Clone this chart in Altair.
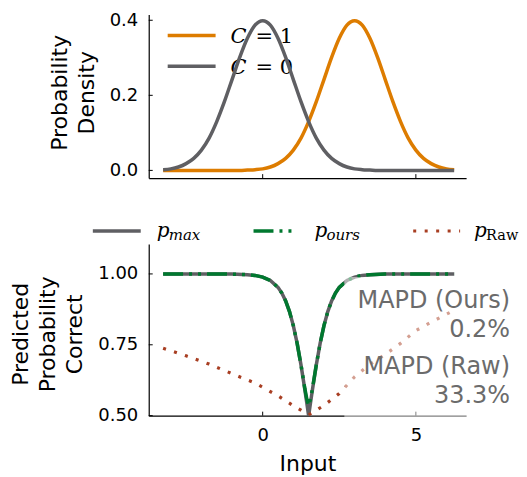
import altair as alt
import pandas as pd

# ---------------- data ----------------
x_grid = [-3.25, -3.0, -2.75, -2.5, -2.25, -2.0, -1.75, -1.5, -1.25, -1.0,
          -0.75, -0.5, -0.25, 0.0, 0.25, 0.5, 0.75, 1.0, 1.25, 1.5,
          1.75, 2.0, 2.25, 2.5, 2.75, 3.0, 3.25, 3.5, 3.75, 4.0,
          4.25, 4.5, 4.75, 5.0, 5.25, 5.5, 5.75, 6.0, 6.25]
density_c0 = [0.002, 0.004, 0.009, 0.018, 0.032, 0.054, 0.086, 0.130, 0.183, 0.242,
              0.301, 0.352, 0.387, 0.399, 0.387, 0.352, 0.301, 0.242, 0.183, 0.130,
              0.086, 0.054, 0.032, 0.018, 0.009, 0.004, 0.002, 0.001, 0.0, 0.0,
              0.0, 0.0, 0.0, 0.0, 0.0, 0.0, 0.0, 0.0, 0.0]
density_c1 = [0.0, 0.0, 0.0, 0.0, 0.0, 0.0, 0.0, 0.0, 0.0, 0.0,
              0.0, 0.001, 0.002, 0.004, 0.009, 0.018, 0.032, 0.054, 0.086, 0.130,
              0.183, 0.242, 0.301, 0.352, 0.387, 0.399, 0.387, 0.352, 0.301, 0.242,
              0.183, 0.130, 0.086, 0.054, 0.032, 0.018, 0.009, 0.004, 0.002]

x_pred = [-3.25, -2.5, -1.5, -1.0, -0.5, -0.25, 0.0, 0.25, 0.5, 0.625,
          0.75, 0.875, 1.0, 1.125, 1.25, 1.375, 1.4375, 1.5, 1.5625, 1.625,
          1.75, 1.875, 2.0, 2.125, 2.25, 2.375, 2.5, 2.75, 3.0, 3.25,
          3.5, 4.0, 4.5, 5.5, 6.25]
p_max = [1.0, 1.0, 0.9999, 0.9994, 0.9975, 0.9948, 0.989, 0.977, 0.9526, 0.9325,
         0.9047, 0.867, 0.8176, 0.7549, 0.6792, 0.5927, 0.5467, 0.5, 0.5467, 0.5927,
         0.6792, 0.7549, 0.8176, 0.867, 0.9047, 0.9325, 0.9526, 0.977, 0.989, 0.9948,
         0.9975, 0.9994, 0.9999, 1.0, 1.0]
p_ours = [1.0, 1.0, 0.9999, 0.9994, 0.9975, 0.9948, 0.989, 0.977, 0.9526, 0.9325,
          0.9047, 0.867, 0.8176, 0.7549, 0.6792, 0.5960, 0.5600, 0.535, 0.5600, 0.5960,
          0.6792, 0.7549, 0.8176, 0.867, 0.9047, 0.9325, 0.9526, 0.977, 0.989, 0.9948,
          0.9975, 0.9994, 0.9999, 1.0, 1.0]

x_raw = [-3.25, -2.5, -1.75, -1.0, -0.25, 0.5, 1.0, 1.5, 2.0, 2.5,
         3.0, 3.5, 4.0, 4.5, 5.0, 5.5, 6.25]
p_raw = [0.738, 0.711, 0.682, 0.648, 0.615, 0.570, 0.535, 0.503, 0.536, 0.578,
         0.637, 0.681, 0.716, 0.755, 0.800, 0.830, 0.872]

x_ticks = [0, 5]
top_yticks = [0.0, 0.2, 0.4]
bottom_yticks = [0.5, 0.75, 1.0]
annotations = ["MAPD (Ours)", "0.2%", "MAPD (Raw)", "33.3%"]

# ---------------- styling ----------------
W = 318
H_TOP = 164
H_BOT = 172
X_DOMAIN = [-3.72, 6.64]
TOP_Y_DOMAIN = [-0.0206, 0.4155]
BOT_Y_DOMAIN = [0.5, 1.1056]

C_ORANGE = "#DD7C00"
C_GRAY = "#5f5f63"
C_GREEN = "#00782F"
C_BROWN = "#A83E22"
C_TEXT = "#6b6b6b"
LW = 3.5

xs = alt.Scale(domain=X_DOMAIN, nice=False, zero=False)
ys_top = alt.Scale(domain=TOP_Y_DOMAIN, nice=False, zero=False)
ys_bot = alt.Scale(domain=BOT_Y_DOMAIN, nice=False, zero=False)

ax_top_x = alt.Axis(values=x_ticks, labels=False, title="")
ax_top_y = alt.Axis(values=top_yticks, format=".1f", title=["Probability", "Density"],
                    titleAngle=270, titleAlign="center", titleBaseline="middle",
                    titleX=-89, titleY=78)
ax_bot_x = alt.Axis(values=x_ticks, format="d", title="Input", titlePadding=9)
ax_bot_y = alt.Axis(values=bottom_yticks, format=".2f",
                    title=["Predicted", "Probability", "Correct"],
                    titleAngle=270, titleAlign="center", titleBaseline="middle",
                    titleX=-128, titleY=90)

one = pd.DataFrame({"k": [0]})


def txt(s, x, y, size, font="DejaVu Sans", style="normal", align="left", color="black"):
    return alt.Chart(one).mark_text(
        text=s, font=font, fontStyle=style, fontSize=size, align=align,
        baseline="alphabetic", color=color
    ).encode(x=alt.value(x), y=alt.value(y))


def hrule(x1, x2, y, color, dash=None, width=LW):
    kw = dict(color=color, strokeWidth=width)
    if dash is not None:
        kw["strokeDash"] = dash
    return alt.Chart(one).mark_rule(**kw).encode(
        x=alt.value(x1), x2=alt.value(x2), y=alt.value(y))


# ---------------- top panel ----------------
top_df = pd.DataFrame({"x": x_grid, "c1": density_c1, "c0": density_c0})

orange = alt.Chart(top_df).mark_line(color=C_ORANGE, strokeWidth=LW, interpolate="monotone").encode(
    x=alt.X("x:Q", scale=xs, axis=ax_top_x),
    y=alt.Y("c1:Q", scale=ys_top, axis=ax_top_y),
)
gray = alt.Chart(top_df).mark_line(color=C_GRAY, strokeWidth=LW, interpolate="monotone").encode(
    x=alt.X("x:Q", scale=xs, axis=ax_top_x),
    y=alt.Y("c0:Q", scale=ys_top, axis=ax_top_y),
)
top_xt = alt.Chart(pd.DataFrame({"t": x_ticks})).mark_rule(color="black", strokeWidth=1).encode(
    x=alt.X("t:Q", scale=xs, axis=ax_top_x), y=alt.value(H_TOP), y2=alt.value(H_TOP - 4))
top_yt = alt.Chart(pd.DataFrame({"t": top_yticks})).mark_rule(color="black", strokeWidth=1).encode(
    y=alt.Y("t:Q", scale=ys_top, axis=ax_top_y), x=alt.value(0), x2=alt.value(4))

top_legend = [
    hrule(19, 67, 21, C_ORANGE),
    txt("C", 82, 28.7, 21, font="DejaVu Serif", style="italic"),
    txt("= 1", 107, 28.7, 21, font="DejaVu Serif"),
    hrule(19, 67, 52, C_GRAY),
    txt("C", 82, 60, 21, font="DejaVu Serif", style="italic"),
    txt("= 0", 107, 60, 21, font="DejaVu Serif"),
]

top = alt.layer(orange, *top_legend, gray, top_xt, top_yt).properties(width=W, height=H_TOP)

# ---------------- bottom panel ----------------
bot_df = pd.DataFrame({"x": x_pred, "pmax": p_max, "pours": p_ours})
raw_df = pd.DataFrame({"x": x_raw, "praw": p_raw})

gmax = alt.Chart(bot_df).mark_line(color=C_GRAY, strokeWidth=LW).encode(
    x=alt.X("x:Q", scale=xs, axis=ax_bot_x),
    y=alt.Y("pmax:Q", scale=ys_bot, axis=ax_bot_y),
)
gours = alt.Chart(bot_df).mark_line(color=C_GREEN, strokeWidth=LW, strokeDash=[20, 6, 3, 6, 3, 6]).encode(
    x=alt.X("x:Q", scale=xs, axis=ax_bot_x),
    y=alt.Y("pours:Q", scale=ys_bot, axis=ax_bot_y),
)
graw = alt.Chart(raw_df).mark_line(color=C_BROWN, strokeWidth=3.2, strokeDash=[3, 8.5]).encode(
    x=alt.X("x:Q", scale=xs, axis=ax_bot_x),
    y=alt.Y("praw:Q", scale=ys_bot, axis=ax_bot_y),
)
bot_xt = alt.Chart(pd.DataFrame({"t": x_ticks})).mark_rule(color="black", strokeWidth=1).encode(
    x=alt.X("t:Q", scale=xs, axis=ax_bot_x), y=alt.value(H_BOT), y2=alt.value(H_BOT - 4))
bot_yt = alt.Chart(pd.DataFrame({"t": bottom_yticks})).mark_rule(color="black", strokeWidth=1).encode(
    y=alt.Y("t:Q", scale=ys_bot, axis=ax_bot_y), x=alt.value(0), x2=alt.value(4))

box = alt.Chart(one).mark_rect(color="white", opacity=0.5).encode(
    x=alt.value(196), x2=alt.value(369), y=alt.value(33), y2=alt.value(180))

ann = [
    txt(annotations[0], 362, 64, 24, align="right", color=C_TEXT),
    txt(annotations[1], 362, 93, 24, align="right", color=C_TEXT),
    txt(annotations[2], 362, 130, 24, align="right", color=C_TEXT),
    txt(annotations[3], 362, 159, 24, align="right", color=C_TEXT),
]

LY = -13
bot_legend = [
    hrule(-56, -8, LY, C_GRAY),
    txt("p", 8, LY + 6, 20, font="DejaVu Serif", style="italic"),
    txt("max", 20, LY + 9, 15, font="DejaVu Serif", style="italic"),
    hrule(105, 149, LY, C_GREEN, dash=[20, 6, 3, 6, 3, 6]),
    txt("p", 166, LY + 6, 20, font="DejaVu Serif", style="italic"),
    txt("ours", 178, LY + 9, 15, font="DejaVu Serif", style="italic"),
    hrule(265, 312, LY, C_BROWN, dash=[3, 8.5], width=3.2),
    txt("p", 326, LY + 6, 20, font="DejaVu Serif", style="italic"),
    txt("Raw", 338, LY + 9, 14.5, font="DejaVu Serif"),
]

bottom = alt.layer(gmax, gours, graw, bot_xt, bot_yt, box, *ann, *bot_legend).properties(
    width=W, height=H_BOT)

chart = alt.vconcat(top, bottom, spacing=66, bounds="flush").configure_axis(
    domainColor="black", domainWidth=1.2, ticks=False, tickSize=0, grid=False,
    labelFont="DejaVu Sans", labelFontSize=18, labelColor="black", labelPadding=11,
    titleFont="DejaVu Sans", titleFontSize=22, titleFontWeight="normal", titleColor="black",
    titleLineHeight=27,
).configure_view(stroke=None).properties(
    padding={"left": 2, "right": 0, "top": 2, "bottom": 0})

chart.save("out.html", embed_options={"renderer": "svg", "actions": False})
